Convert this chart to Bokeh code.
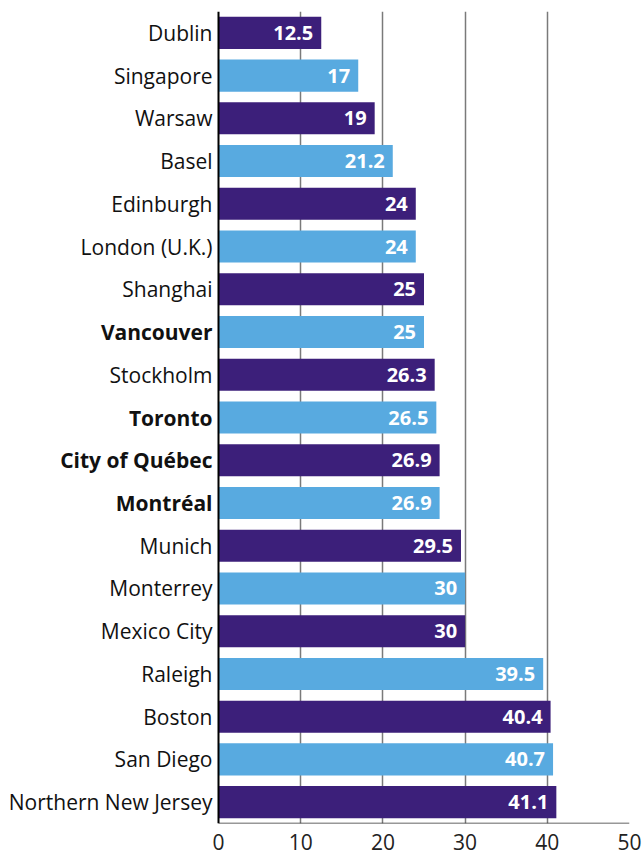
from bokeh.plotting import figure
from bokeh.models import ColumnDataSource, Range1d, FixedTicker, Span
from bokeh.embed import file_html
from bokeh.resources import INLINE
from bokeh.core.properties import value

cities = ["Dublin", "Singapore", "Warsaw", "Basel", "Edinburgh", "London (U.K.)",
          "Shanghai", "Vancouver", "Stockholm", "Toronto", "City of Québec",
          "Montréal", "Munich", "Monterrey", "Mexico City", "Raleigh", "Boston",
          "San Diego", "Northern New Jersey"]
values = [12.5, 17, 19, 21.2, 24, 24, 25, 25, 26.3, 26.5, 26.9, 26.9, 29.5,
          30, 30, 39.5, 40.4, 40.7, 41.1]
bold_cities = ["Vancouver", "Toronto", "City of Québec", "Montréal"]
x_ticks = [0, 10, 20, 30, 40, 50]

DARK = "#3c1f7a"
LIGHT = "#58aae0"
FONT = "Open Sans"

W, H = 644, 854
LEFT_PX, RIGHT_PX = 218, 629   # pixel positions of x=0 and x=50
TOP, BOTTOM = 11, 31

n = len(cities)
ypos = [n - 1 - i for i in range(n)]
colors = [DARK if i % 2 == 0 else LIGHT for i in range(n)]
labels = [("%g" % v) for v in values]

src = ColumnDataSource(dict(city=cities, val=values, y=ypos, color=colors, lab=labels))
norm_idx = [i for i, c in enumerate(cities) if c not in bold_cities]
bold_idx = [i for i, c in enumerate(cities) if c in bold_cities]
normal_src = ColumnDataSource(dict(city=[cities[i] for i in norm_idx],
                                   y=[ypos[i] for i in norm_idx],
                                   x=[x_ticks[0]] * len(norm_idx)))
bold_src = ColumnDataSource(dict(city=[cities[i] for i in bold_idx],
                                 y=[ypos[i] for i in bold_idx],
                                 x=[x_ticks[0]] * len(bold_idx)))

x_max = x_ticks[-1]
x_min = -x_max * LEFT_PX / (RIGHT_PX - LEFT_PX)

p = figure(width=W, height=H, output_backend="svg", toolbar_location=None,
           x_range=Range1d(x_min, x_max), y_range=Range1d(-0.5, n - 0.5),
           min_border_left=0, min_border_right=W - RIGHT_PX, min_border_top=TOP,
           min_border_bottom=BOTTOM)
p.outline_line_color = None
p.background_fill_color = "white"
p.yaxis.visible = False

p.ygrid.grid_line_color = None
p.xgrid.ticker = FixedTicker(ticks=x_ticks[1:])
p.xgrid.grid_line_color = "#7a7a7a"
p.xgrid.grid_line_width = 1.5

p.hbar(y="y", right="val", left=0, height=0.75, color="color", source=src, line_color=None)

# value labels inside bars
p.text(x="val", y="y", text="lab", source=src, x_offset=-8,
       text_align="right", text_baseline="middle", text_color="white",
       text_font=value(FONT), text_font_style="bold", text_font_size="20px")

# category labels
p.text(x="x", y="y", text="city", source=normal_src, x_offset=-6,
       text_align="right", text_baseline="middle", text_color="#111111",
       text_font=value(FONT), text_font_size="21px")
p.text(x="x", y="y", text="city", source=bold_src, x_offset=-6,
       text_align="right", text_baseline="middle", text_color="#111111",
       text_font=value(FONT), text_font_style="bold", text_font_size="21px")

# axis lines
p.add_layout(Span(location=x_ticks[0], dimension="height", line_color="black", line_width=2))
p.segment(x0=[x_ticks[0]], x1=[x_ticks[-1]], y0=[-0.5], y1=[-0.5],
          line_color="#333333", line_width=1.5)

p.xaxis.ticker = FixedTicker(ticks=x_ticks)
p.xaxis.axis_line_color = None
p.xaxis.major_tick_line_color = None
p.xaxis.minor_tick_line_color = None
p.xaxis.major_label_standoff = 4
p.xaxis.major_label_text_font = FONT
p.xaxis.major_label_text_font_size = "21px"
p.xaxis.major_label_text_color = "#222222"

open("out.html", "w").write(file_html(p, INLINE))
